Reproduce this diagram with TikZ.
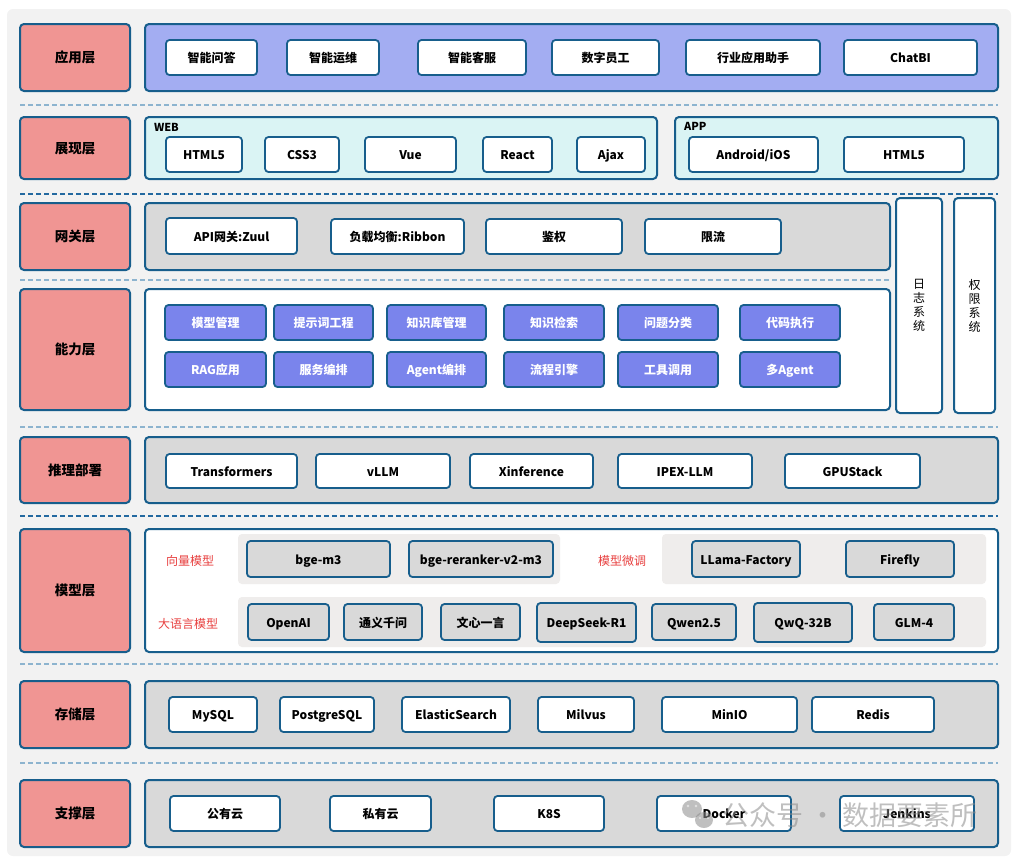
\documentclass[tikz,border=0pt]{standalone}
\usepackage{fontspec}
\setmainfont{Noto Sans CJK SC}
\definecolor{bg}{HTML}{F2F2F2}
\definecolor{bd}{HTML}{175E8C}
\definecolor{pinkf}{HTML}{F09593}
\definecolor{lav}{HTML}{A3ADF2}
\definecolor{cyanf}{HTML}{DAF4F4}
\definecolor{grayf}{HTML}{D9D9D9}
\definecolor{purp}{HTML}{7A84EC}
\definecolor{subf}{HTML}{EFEDEC}
\definecolor{redt}{HTML}{E8403F}
\definecolor{dashl}{HTML}{8DB4CF}
\definecolor{dashd}{HTML}{2369A0}
\definecolor{wm}{HTML}{8C8C8C}
\newcommand\bx[7]{\node[#6,minimum width={(#4-#2)*1pt},minimum height={(#5-#3)*1pt}] (#1) at ({(#2+#4)/2},{(#3+#5)/2}) {#7};}
\tikzset{
  base/.style={inner sep=0pt,outer sep=0pt,align=center},
  tb/.style={text height=1.05em,text depth=0.05em},
  lab/.style={base,tb,draw=bd,line width=2pt,fill=pinkf,rounded corners=4pt,font=\bfseries\fontsize{13.5}{16}\selectfont},
  panel/.style={base,draw=bd,line width=2pt,rounded corners=4pt},
  wbox/.style={base,tb,draw=bd,line width=1.8pt,fill=white,rounded corners=3.5pt,font=\bfseries\fontsize{12}{14}\selectfont},
  pbox/.style={wbox,fill=purp,text=white},
  gbox/.style={wbox,fill=grayf},
  subp/.style={base,fill=subf,rounded corners=4pt},
  redlab/.style={base,tb,text=redt,font=\fontsize{12}{14}\selectfont},
  tag/.style={base,anchor=west,font=\bfseries\fontsize{11}{13}\selectfont},
  vtext/.style={base,font=\fontsize{12}{14}\selectfont},
  dl/.style={draw=dashl,line width=1.2pt,dash pattern=on 5pt off 3pt},
  dd/.style={draw=dashd,line width=1.2pt,dash pattern=on 5pt off 3pt},
}
\begin{document}
\begin{tikzpicture}[x=1pt,y=-1pt]
\useasboundingbox (0,0) rectangle (1018,860);
\fill[bg,rounded corners=6pt] (7,9) rectangle (1011,856);
% dashed separators
\draw[dl] (20,105) -- (998,105);
\draw[dd] (20,194) -- (998,194);
\draw[dl] (20,280) -- (890,280);
\draw[dl] (20,427) -- (998,427);
\draw[dd] (20,516) -- (998,516);
\draw[dl] (20,664) -- (998,664);
\draw[dl] (20,763) -- (998,763);
% layer labels
\bx{lapp}{20}{24}{130}{91}{lab}{应用层}
\bx{lshow}{20}{117}{130}{179}{lab}{展现层}
\bx{lgw}{20}{203}{130}{270}{lab}{网关层}
\bx{lcap}{20}{289}{130}{410}{lab}{能力层}
\bx{linf}{20}{437}{130}{503}{lab}{推理部署}
\bx{lmod}{20}{529}{130}{652}{lab}{模型层}
\bx{lsto}{20}{681}{130}{748}{lab}{存储层}
\bx{lsup}{20}{780}{130}{847}{lab}{支撑层}
% application layer
\bx{papp}{145}{24}{998}{91}{panel,fill=lav}{}
\bx{a1}{166}{40}{257}{75}{wbox}{智能问答}
\bx{a2}{287}{40}{379}{75}{wbox}{智能运维}
\bx{a3}{418}{40}{526}{75}{wbox}{智能客服}
\bx{a4}{552}{40}{659}{75}{wbox}{数字员工}
\bx{a5}{686}{40}{820}{75}{wbox}{行业应用助手}
\bx{a6}{844}{40}{977}{75}{wbox}{ChatBI}
% presentation layer
\bx{pweb}{145}{117}{657}{179}{panel,fill=cyanf}{}
\node[tag] (tweb) at (154,127) {WEB};
\bx{w1}{166}{137}{242}{172}{wbox}{HTML5}
\bx{w2}{265}{137}{339}{172}{wbox}{CSS3}
\bx{w3}{365}{137}{456}{172}{wbox}{Vue}
\bx{w4}{483}{137}{552}{172}{wbox}{React}
\bx{w5}{577}{137}{645}{172}{wbox}{Ajax}
\bx{pmob}{675}{117}{998}{179}{panel,fill=cyanf}{}
\node[tag] (tapp) at (684,126) {APP};
\bx{m1}{689}{137}{818}{172}{wbox}{Android/iOS}
\bx{m2}{844}{137}{964}{172}{wbox}{HTML5}
% gateway layer
\bx{pgw}{145}{203}{890}{270}{panel,fill=grayf}{}
\bx{g1}{166}{218}{297}{254}{wbox}{API网关:Zuul}
\bx{g2}{331}{219}{464}{254}{wbox}{负载均衡:Ribbon}
\bx{g3}{486}{219}{622}{254}{wbox}{鉴权}
\bx{g4}{645}{219}{781}{254}{wbox}{限流}
% side systems
\bx{plog}{896}{198}{942}{413}{panel,fill=white}{}
\node[vtext] (tlog) at (plog.center) {\baselineskip=14pt 日\\志\\系\\统};
\bx{pperm}{954}{198}{995}{413}{panel,fill=white}{}
\node[vtext] (tperm) at (pperm.center) {\baselineskip=14pt 权\\限\\系\\统};
% capability layer
\bx{pcap}{145}{289}{890}{410}{panel,fill=white}{}
\bx{c1}{165}{305}{266}{340}{pbox}{模型管理}
\bx{c2}{274}{305}{373}{340}{pbox}{提示词工程}
\bx{c3}{387}{305}{486}{340}{pbox}{知识库管理}
\bx{c4}{504}{305}{604}{340}{pbox}{知识检索}
\bx{c5}{618}{305}{718}{340}{pbox}{问题分类}
\bx{c6}{740}{305}{840}{340}{pbox}{代码执行}
\bx{c7}{165}{352}{266}{387}{pbox}{RAG应用}
\bx{c8}{274}{352}{373}{387}{pbox}{服务编排}
\bx{c9}{387}{352}{486}{387}{pbox}{Agent编排}
\bx{c10}{504}{352}{604}{387}{pbox}{流程引擎}
\bx{c11}{618}{352}{718}{387}{pbox}{工具调用}
\bx{c12}{740}{352}{840}{387}{pbox}{多Agent}
% inference layer
\bx{pinf}{145}{437}{998}{503}{panel,fill=grayf}{}
\bx{i1}{166}{454}{297}{488}{wbox}{Transformers}
\bx{i2}{316}{454}{450}{488}{wbox}{vLLM}
\bx{i3}{470}{454}{593}{488}{wbox}{Xinference}
\bx{i4}{618}{454}{752}{488}{wbox}{IPEX-LLM}
\bx{i5}{785}{454}{920}{488}{wbox}{GPUStack}
% model layer
\bx{pmod}{145}{529}{998}{652}{panel,fill=white}{}
\bx{s1}{238}{534}{560}{584}{subp}{}
\bx{s2}{662}{534}{986}{584}{subp}{}
\bx{s3}{238}{597}{986}{647}{subp}{}
\node[redlab] (r1) at (190,560) {向量模型};
\node[redlab] (r2) at (622,560) {模型微调};
\node[redlab] (r3) at (188,623) {大语言模型};
\bx{e1}{247}{541}{390}{577}{gbox}{bge-m3}
\bx{e2}{409}{541}{553}{577}{gbox}{bge-reranker-v2-m3}
\bx{f1}{692}{541}{800}{577}{gbox}{LLama-Factory}
\bx{f2}{846}{541}{954}{577}{gbox}{Firefly}
\bx{l1}{248}{604}{329}{640}{gbox}{OpenAI}
\bx{l2}{344}{604}{422}{640}{gbox}{通义千问}
\bx{l3}{441}{604}{520}{640}{gbox}{文心一言}
\bx{l4}{537}{603}{636}{642}{gbox}{DeepSeek-R1}
\bx{l5}{652}{604}{736}{640}{gbox}{Qwen2.5}
\bx{l6}{754}{603}{852}{642}{gbox}{QwQ-32B}
\bx{l7}{874}{604}{954}{640}{gbox}{GLM-4}
% storage layer
\bx{psto}{145}{681}{998}{748}{panel,fill=grayf}{}
\bx{d1}{169}{697}{257}{732}{wbox}{MySQL}
\bx{d2}{280}{697}{374}{732}{wbox}{PostgreSQL}
\bx{d3}{402}{697}{510}{732}{wbox}{ElasticSearch}
\bx{d4}{538}{697}{634}{732}{wbox}{Milvus}
\bx{d5}{662}{697}{797}{732}{wbox}{MinIO}
\bx{d6}{812}{697}{934}{732}{wbox}{Redis}
% support layer
\bx{psup}{145}{780}{998}{847}{panel,fill=grayf}{}
\bx{u1}{170}{796}{280}{831}{wbox}{公有云}
\bx{u2}{330}{796}{431}{831}{wbox}{私有云}
\bx{u3}{494}{796}{604}{831}{wbox}{K8S}
\bx{u4}{657}{796}{791}{831}{wbox}{Docker}
\bx{u5}{840}{796}{974}{831}{wbox}{Jenkins}
% watermark
\begin{scope}[opacity=0.55]
\fill[wm] (692,809) ellipse (10pt and 9pt);
\fill[wm] (704,820) ellipse (9pt and 8pt);
\fill[white] (688,806) circle (1.4pt) (696,806) circle (1.4pt);
\fill[white] (700,818) circle (1.2pt) (708,818) circle (1.2pt);
\node[base,anchor=west,text=wm,font=\fontsize{27}{30}\selectfont] (wmk) at (722,815) {公众号 · 数据要素所};
\end{scope}
\end{tikzpicture}
\end{document}
